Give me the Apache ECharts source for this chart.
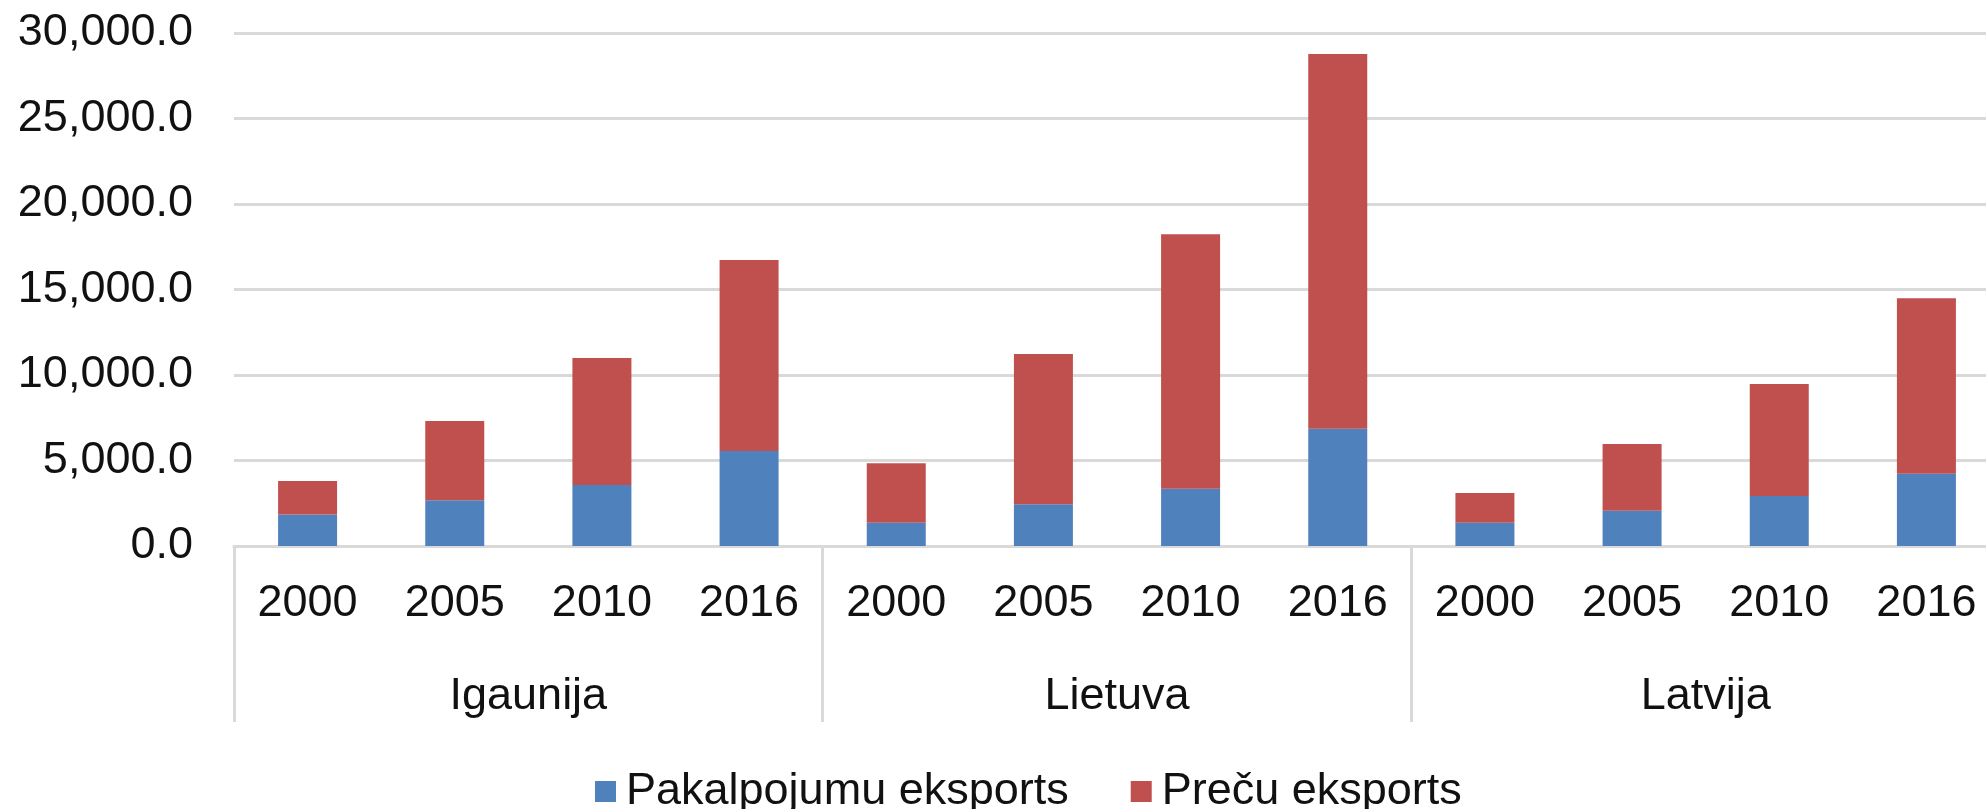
<!DOCTYPE html>
<html>
<head>
<meta charset="utf-8">
<script src="https://cdn.jsdelivr.net/npm/echarts@6/dist/echarts.min.js"></script>
<style>
  html, body { margin: 0; padding: 0; background: #fff; }
  #chart { width: 1986px; height: 809px; }
</style>
</head>
<body>
<div id="chart"></div>
<script>
// source values
const countries = ['Igaunija', 'Lietuva', 'Latvija'];
const years = ['2000', '2005', '2010', '2016', '2000', '2005', '2010', '2016', '2000', '2005', '2010', '2016'];
const pakalpojumu = [1839, 2682, 3569, 5559, 1363, 2444, 3353, 6857, 1363, 2055, 2920, 4218];
const precu = [1968, 4629, 7419, 11161, 3482, 8782, 14881, 21911, 1730, 3915, 6554, 10274];
const seriesNames = ['Pakalpojumu eksports', 'Preču eksports'];

const font = 'Liberation Sans, Arial, sans-serif';
const gridColor = '#d9d9d9';

const chart = echarts.init(document.getElementById('chart'));

// plot runs past the right edge, the last group is cut off like in the source
chart.setOption({
  animation: false,
  backgroundColor: '#fff',
  textStyle: { fontFamily: font },
  grid: {
    left: 234,
    width: 1766,
    top: 33,
    bottom: 263,
    containLabel: false,
    outerBoundsMode: 'none'
  },
  legend: {
    data: seriesNames,
    left: 590,
    top: 764,
    icon: 'rect',
    itemWidth: 21,
    itemHeight: 21,
    itemGap: 62,
    textStyle: { fontFamily: font, fontSize: 45, color: '#111', padding: [0, 0, 0, 5] }
  },
  xAxis: [
    {
      type: 'category',
      data: years,
      position: 'bottom',
      axisLine: { show: true, lineStyle: { color: gridColor, width: 3 } },
      axisTick: { show: false },
      axisLabel: { interval: 0, margin: 35, fontSize: 45, color: '#111', fontFamily: font }
    },
    {
      type: 'category',
      data: countries,
      position: 'bottom',
      axisLine: { show: false },
      axisTick: {
        show: true,
        interval: 0,
        length: 176,
        lineStyle: { color: gridColor, width: 3 }
      },
      axisLabel: { interval: 0, margin: 128, fontSize: 45, color: '#111', fontFamily: font }
    }
  ],
  yAxis: {
    type: 'value',
    min: 0,
    max: 30000,
    interval: 5000,
    axisLine: { show: false },
    axisTick: { show: false },
    splitLine: { lineStyle: { color: gridColor, width: 3 } },
    axisLabel: {
      margin: 41,
      fontSize: 45,
      color: '#111',
      fontFamily: font,
      formatter: v => v.toLocaleString('en-US', { minimumFractionDigits: 1, maximumFractionDigits: 1 })
    }
  },
  series: [
    {
      name: seriesNames[0],
      type: 'bar',
      stack: 'total',
      barWidth: 59,
      xAxisIndex: 0,
      itemStyle: { color: '#4f81bd' },
      data: pakalpojumu
    },
    {
      name: seriesNames[1],
      type: 'bar',
      stack: 'total',
      barWidth: 59,
      xAxisIndex: 0,
      itemStyle: { color: '#c0504d' },
      data: precu
    }
  ]
});
</script>
</body>
</html>
